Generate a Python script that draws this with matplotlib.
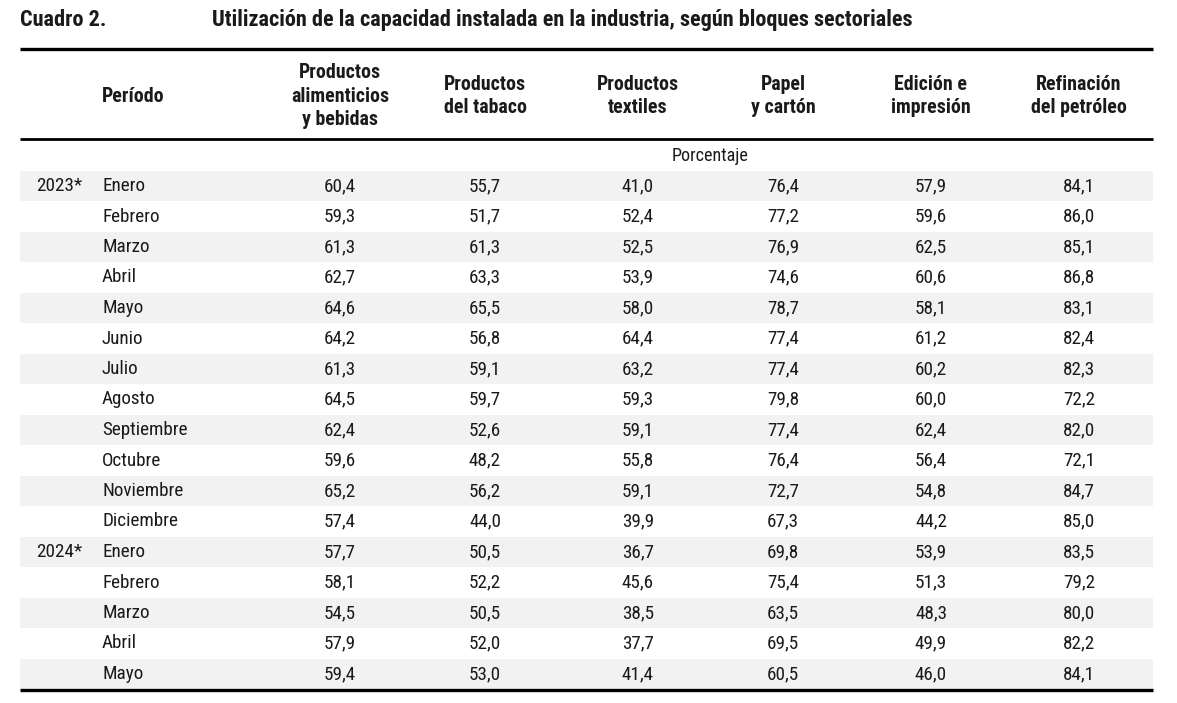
import matplotlib
matplotlib.use('Agg')
import matplotlib.pyplot as plt
from matplotlib import font_manager

# Fuente estrecha (tipo Helvetica Condensed) con negrita estática
def elegir_familia(candidatas):
    for nombre in candidatas:
        pesos = {f.weight for f in font_manager.fontManager.ttflist
                 if f.name == nombre and '[' not in f.fname}
        if 400 in pesos and 700 in pesos:
            return nombre
    return 'DejaVu Sans'

FAMILIA = elegir_familia(['Roboto Condensed', 'PT Sans Narrow', 'Archivo Narrow',
                          'Barlow Semi Condensed'])
FAMILY = [FAMILIA, 'DejaVu Sans']

# Datos
titulo_num = 'Cuadro 2.'
titulo = 'Utilización de la capacidad instalada en la industria, según bloques sectoriales'
encabezados = ['Productos\nalimenticios\ny bebidas', 'Productos\ndel tabaco', 'Productos\ntextiles',
               'Papel\ny cartón', 'Edición e\nimpresión', 'Refinación\ndel petróleo']
anios = ['2023*', '', '', '', '', '', '', '', '', '', '', '', '2024*', '', '', '', '']
meses = ['Enero', 'Febrero', 'Marzo', 'Abril', 'Mayo', 'Junio', 'Julio', 'Agosto', 'Septiembre',
         'Octubre', 'Noviembre', 'Diciembre', 'Enero', 'Febrero', 'Marzo', 'Abril', 'Mayo']
alimentos = [60.4, 59.3, 61.3, 62.7, 64.6, 64.2, 61.3, 64.5, 62.4, 59.6, 65.2, 57.4,
             57.7, 58.1, 54.5, 57.9, 59.4]
tabaco = [55.7, 51.7, 61.3, 63.3, 65.5, 56.8, 59.1, 59.7, 52.6, 48.2, 56.2, 44.0,
          50.5, 52.2, 50.5, 52.0, 53.0]
textiles = [41.0, 52.4, 52.5, 53.9, 58.0, 64.4, 63.2, 59.3, 59.1, 55.8, 59.1, 39.9,
            36.7, 45.6, 38.5, 37.7, 41.4]
papel = [76.4, 77.2, 76.9, 74.6, 78.7, 77.4, 77.4, 79.8, 77.4, 76.4, 72.7, 67.3,
         69.8, 75.4, 63.5, 69.5, 60.5]
edicion = [57.9, 59.6, 62.5, 60.6, 58.1, 61.2, 60.2, 60.0, 62.4, 56.4, 54.8, 44.2,
           53.9, 51.3, 48.3, 49.9, 46.0]
refinacion = [84.1, 86.0, 85.1, 86.8, 83.1, 82.4, 82.3, 72.2, 82.0, 72.1, 84.7, 85.0,
              83.5, 79.2, 80.0, 82.2, 84.1]
columnas = [alimentos, tabaco, textiles, papel, edicion, refinacion]

# Geometría (en píxeles de la figura)
W, H = 1177, 703
x_izq, x_der = 20, 1153
x_anio, x_mes = 36, 102
x_cols = [340, 485, 638, 783, 931, 1079]
y_fila0, paso = 186, 30.5
color_txt = '#1a1a1a'

fig = plt.figure(figsize=(W / 100, H / 100), dpi=100)
ax = fig.add_axes([0, 0, 1, 1])
ax.set_xlim(0, W)
ax.set_ylim(H, 0)
ax.axis('off')
renderer = fig.canvas.get_renderer()


def ajustar(texto, ancho, peso):
    # tamaño de letra para que el texto ocupe el ancho medido en el original
    t = ax.text(0, 0, texto, fontsize=10, fontweight=peso, family=FAMILY)
    w = t.get_window_extent(renderer).width
    t.remove()
    return 10 * ancho / w


fs_tit = ajustar(titulo, 704, 'bold')
fs_enc = ajustar('alimenticios', 98, 'bold')
fs = ajustar('Septiembre', 85, 'normal')

kw = dict(family=FAMILY, color=color_txt)

# Títulos
ax.text(x_izq, 20, titulo_num, fontsize=fs_tit, fontweight='bold', va='center', ha='left', **kw)
ax.text(212, 20, titulo, fontsize=fs_tit, fontweight='bold', va='center', ha='left', **kw)

# Filas sombreadas
for i in range(len(meses)):
    if i % 2 == 0:
        y = y_fila0 + i * paso
        ax.fill_between([x_izq, x_der], y - paso / 2, y + paso / 2, color='#f2f2f2', lw=0, zorder=0)

# Líneas
ax.plot([x_izq, x_der], [49, 49], color='black', lw=2.4, solid_capstyle='butt')
ax.plot([x_izq, x_der], [139, 139], color='black', lw=2.0, solid_capstyle='butt')
y_fin = y_fila0 + (len(meses) - 1) * paso + paso / 2 + 0.5
ax.plot([x_izq, x_der], [y_fin, y_fin], color='black', lw=2.4, solid_capstyle='butt')

# Encabezados
ax.text(x_mes, 96, 'Período', fontsize=fs_enc, fontweight='bold', va='center', ha='left', **kw)
for xc, enc in zip(x_cols, encabezados):
    ax.text(xc, 96, enc, fontsize=fs_enc, fontweight='bold', va='center', ha='center',
            linespacing=1.3, **kw)
ax.text(710, 156, 'Porcentaje', fontsize=fs * 0.95, va='center', ha='center', **kw)

# Cuerpo
for i, (a, m) in enumerate(zip(anios, meses)):
    y = y_fila0 + i * paso
    if a:
        ax.text(x_anio, y, a, fontsize=fs, va='center', ha='left', **kw)
    ax.text(x_mes, y, m, fontsize=fs, va='center', ha='left', **kw)
    for xc, col in zip(x_cols, columnas):
        ax.text(xc, y, f'{col[i]:.1f}'.replace('.', ','), fontsize=fs, va='center',
                ha='center', **kw)

fig.savefig('out.png', dpi=100, facecolor='white')
